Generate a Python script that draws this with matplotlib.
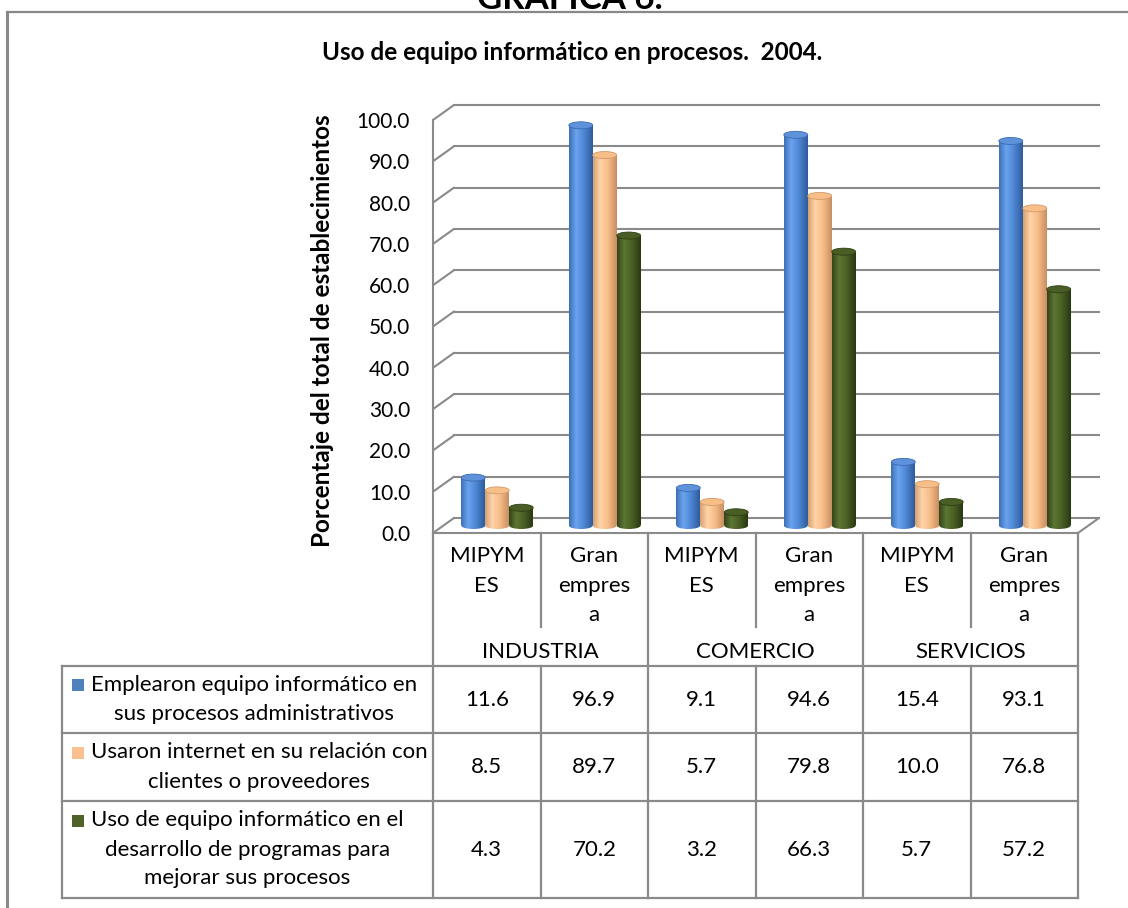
import numpy as np
import matplotlib.pyplot as plt
from matplotlib.patches import Ellipse, Rectangle, ConnectionPatch
from matplotlib.colors import LinearSegmentedColormap
from matplotlib.transforms import offset_copy

plt.rcParams['font.family'] = ['Lato', 'DejaVu Sans']

# datos
grupos = ["INDUSTRIA", "COMERCIO", "SERVICIOS"]
tamanos = ["MIPYM\nES", "Gran\nempres\na"]
series = ["Emplearon equipo informático en\nsus procesos administrativos",
          "Usaron internet en su relación con\nclientes o proveedores",
          "Uso de equipo informático en el\ndesarrollo de programas para\nmejorar sus procesos"]
administrativos = [11.6, 96.9, 9.1, 94.6, 15.4, 93.1]
internet = [8.5, 89.7, 5.7, 79.8, 10.0, 76.8]
programas = [4.3, 70.2, 3.2, 66.3, 5.7, 57.2]
valores = [administrativos, internet, programas]
yticks = np.arange(0, 101, 10)

# colores (cuerpo del cilindro, tapa, borde)
grad_cols = [['#3D6FB8', '#6BA3EE', '#5089D6', '#2F5C9C'],
             ['#D6A072', '#FFD4A8', '#F9BF8B', '#C98F60'],
             ['#33441A', '#5C7632', '#4A6225', '#2A3813']]
key_cols = ['#4F81BD', '#FAC090', '#4F6228']
cap_cols = ['#5E93DC', '#F7BE88', '#485E24']
edge_cols = ['#3C6AB0', '#D29B6C', '#2F3E16']
gris = '#8a8a8a'
FS = 16      # texto de la tabla
FT = 15      # etiquetas del eje
FB = 17.5    # titulos en negrita

W, H = 1128, 908
fig = plt.figure(figsize=(W / 100, H / 100), dpi=100)

# lienzo en pixeles para marco y tabla
lay = fig.add_axes([0, 0, 1, 1])
lay.set_xlim(0, W)
lay.set_ylim(H, 0)
lay.axis('off')

# marco
lay.plot([6.5, W], [12, 12], color='#888888', lw=1.6)
lay.plot([6.5, 6.5], [12, H], color='#888888', lw=2.2)

fig.text(570 / W, 1 - 9 / H, "GRAFICA 6.", ha='center', va='baseline',
         fontsize=25, fontweight='bold')
fig.text(572 / W, 1 - 52 / H, "Uso de equipo informático en procesos.  2004.",
         ha='center', va='center', fontsize=FB, fontweight='bold')
fig.text(322 / W, 1 - 331 / H, "Porcentaje del total de establecimientos",
         ha='center', va='center', rotation=90, fontsize=FB, fontweight='bold')

# plano frontal del grafico
x0p, x1p, y0p, y1p = 433, 1078, 533, 120
ax = fig.add_axes([x0p / W, 1 - y0p / H, (x1p - x0p) / W, (y0p - y1p) / H])
ax.set_zorder(2)
ax.patch.set_visible(False)
for s in ax.spines.values():
    s.set_visible(False)

DX, DY = 21, 15
mid = offset_copy(ax.transData, fig=fig, x=DX / 2, y=DY / 2, units='dots')
back = offset_copy(ax.transData, fig=fig, x=DX, y=DY, units='dots')

ncat = len(administrativos)
xl, xr = -0.5, ncat - 0.5

# paredes y rejilla
for v in yticks:
    ax.plot([xl, xr], [v, v], transform=back, color=gris, lw=1.5, clip_on=False, zorder=1)
    cp = ConnectionPatch((xl, v), (xl, v), coordsA=ax.transData, coordsB=back,
                         color=gris, lw=1.5, zorder=1)
    cp.set_clip_on(False)
    ax.add_artist(cp)
ax.plot([xl, xl], [0, 100], color=gris, lw=1.5, clip_on=False, zorder=1)
ax.plot([xl, xr], [0, 0], color=gris, lw=1.5, clip_on=False, zorder=1)
cp = ConnectionPatch((xr, 0), (xr, 0), coordsA=ax.transData, coordsB=back,
                     color=gris, lw=1.5, zorder=1)
cp.set_clip_on(False)
ax.add_artist(cp)

# cilindros
bw = 0.223
eh = 1.7
x = np.arange(ncat)
grad = np.linspace(0, 1, 96)[None, :]
for s, vals in enumerate(valores):
    cmap = LinearSegmentedColormap.from_list('c%d' % s, list(zip([0, 0.3, 0.6, 1], grad_cols[s])))
    bars = ax.bar(x + (s - 1) * bw, vals, width=bw, transform=mid,
                  color='none', edgecolor='none', zorder=3)
    for r in bars.patches:
        bx, bwid, bh = r.get_x(), r.get_width(), r.get_height()
        cx = bx + bwid / 2
        im = ax.imshow(grad, cmap=cmap, extent=(bx, bx + bwid, 0, bh), transform=mid,
                       aspect='auto', interpolation='bilinear', zorder=3)
        im.set_clip_path(r)
        bot = Ellipse((cx, 0), bwid, eh, transform=mid, facecolor='none', edgecolor='none')
        ax.add_patch(bot)
        im2 = ax.imshow(grad, cmap=cmap, extent=(bx, bx + bwid, -eh / 2, eh / 2), transform=mid,
                        aspect='auto', interpolation='bilinear', zorder=2.9)
        im2.set_clip_path(bot)
        ax.add_patch(Ellipse((cx, bh), bwid, eh, transform=mid, facecolor=cap_cols[s],
                             edgecolor=edge_cols[s], lw=0.6, zorder=3.5))

ax.set_xlim(xl, xr)
ax.set_ylim(0, 100)
ax.set_xticks([])
ax.set_yticks(yticks)
ax.set_yticklabels([f"{v:.1f}" for v in yticks])
ax.tick_params(axis='y', length=0, pad=16.5, labelsize=FT)

# tabla de datos
edges = np.linspace(x0p, x1p, ncat + 1)
centers = (edges[:-1] + edges[1:]) / 2
rows = [666, 733, 801, 898]
tl = 62
lw_t = 1.6
for yy in rows:
    lay.plot([tl, x1p], [yy, yy], color=gris, lw=lw_t)
lay.plot([tl, tl], [rows[0], rows[-1]], color=gris, lw=lw_t)
for i, ex in enumerate(edges):
    if i % 2 == 0:
        lay.plot([ex, ex], [y0p, rows[-1]], color=gris, lw=lw_t)
    else:
        lay.plot([ex, ex], [y0p, 627], color=gris, lw=lw_t)
        lay.plot([ex, ex], [rows[0], rows[-1]], color=gris, lw=lw_t)

paso = 29.5
for i, c in enumerate(centers):
    for k, linea in enumerate(tamanos[i % 2].split("\n")):
        lay.text(c, 556 + k * paso, linea, ha='center', va='center', fontsize=FS)
for g, nombre in enumerate(grupos):
    lay.text((edges[2 * g] + edges[2 * g + 2]) / 2, 652, nombre, ha='center', va='center', fontsize=FS)

renderer = fig.canvas.get_renderer()
for s, etiqueta in enumerate(series):
    yc = (rows[s] + rows[s + 1]) / 2
    lineas = etiqueta.split("\n")
    ys = yc + (np.arange(len(lineas)) - (len(lineas) - 1) / 2) * 29
    t0 = lay.text(91, ys[0], lineas[0], ha='left', va='center', fontsize=FS)
    bb = t0.get_window_extent(renderer)
    cx = 91 + bb.width / 2
    for k in range(1, len(lineas)):
        lay.text(cx, ys[k], lineas[k], ha='center', va='center', fontsize=FS)
    lay.add_patch(Rectangle((72, ys[0] - 6), 12, 12, facecolor=key_cols[s], edgecolor='none'))
    for i, c in enumerate(centers):
        lay.text(c, yc, f"{valores[s][i]:.1f}", ha='center', va='center', fontsize=FS)

fig.savefig("out.png", dpi=100)
